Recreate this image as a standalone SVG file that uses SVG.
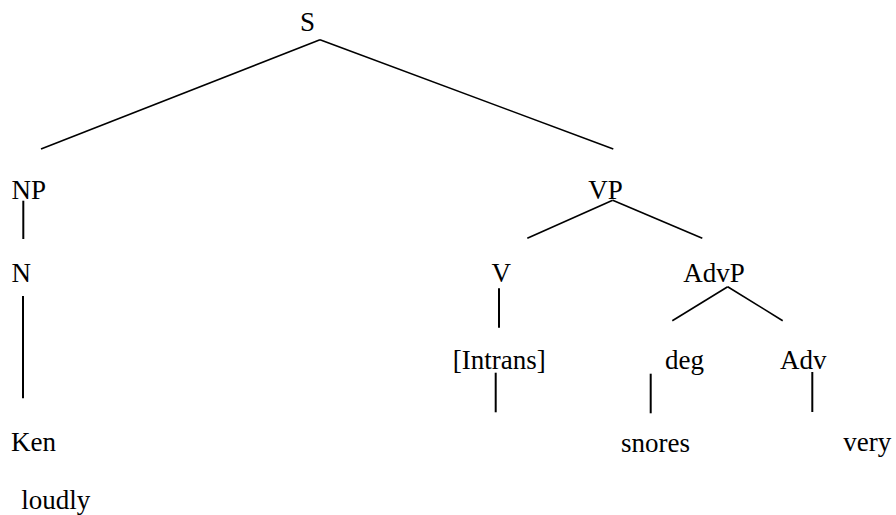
<svg xmlns="http://www.w3.org/2000/svg" width="896" height="515" viewBox="0 0 896 515">
<style>
text{font-family:'Liberation Serif','Times New Roman',Times,'DejaVu Serif',serif;font-size:27px;fill:#000}
.d{stroke:#000;stroke-width:1.6;fill:none}
.v{stroke:#000;stroke-width:2;fill:none}
</style>
<rect width="896" height="515" fill="#fff"/>
<g id="connectors">
<line class="d" x1="320" y1="39.7" x2="41" y2="149"/>
<line class="d" x1="320" y1="39.7" x2="613.3" y2="149"/>
<line class="v" x1="23.3" y1="200.7" x2="23.3" y2="239"/>
<line class="v" x1="23" y1="296" x2="23" y2="398.3"/>
<line class="d" x1="612.7" y1="200.3" x2="527.3" y2="238.3"/>
<line class="d" x1="612.7" y1="200.3" x2="702.3" y2="238.3"/>
<line class="v" x1="499" y1="288.3" x2="499" y2="327.7"/>
<line class="d" x1="727.7" y1="286.7" x2="672.3" y2="320.7"/>
<line class="d" x1="727.7" y1="286.7" x2="782.7" y2="320.7"/>
<line class="v" x1="495.7" y1="372.7" x2="495.7" y2="412.3"/>
<line class="v" x1="650.7" y1="373.7" x2="650.7" y2="413.3"/>
<line class="v" x1="812.3" y1="372" x2="812.3" y2="412"/>
</g>
<g id="n-S"><text x="300" y="31" font-family="Liberation Serif, serif">S</text></g>
<g id="n-NP"><text x="11.5" y="199">NP</text></g>
<g id="n-N"><text x="11.5" y="282">N</text></g>
<g id="n-Ken"><text x="11" y="451">Ken</text></g>
<g id="n-loudly"><text x="21.3" y="509">loudly</text></g>
<g id="n-VP"><text x="588.3" y="199">VP</text></g>
<g id="n-V"><text x="491.5" y="282">V</text></g>
<g id="n-AdvP"><text x="683.3" y="282">AdvP</text></g>
<g id="n-Intrans"><text x="452.7" y="369">[Intrans]</text></g>
<g id="n-deg"><text x="665" y="369">deg</text></g>
<g id="n-Adv"><text x="780" y="369">Adv</text></g>
<g id="n-snores"><text x="621" y="451.5">snores</text></g>
<g id="n-very"><text x="843.3" y="451">very</text></g>
</svg>
